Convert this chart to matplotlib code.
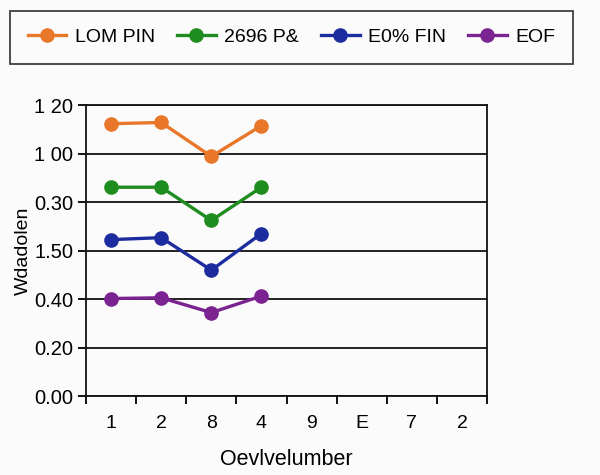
import matplotlib.pyplot as plt
import numpy as np

# =====================
# Дані
# =====================
x_labels = ["1", "2", "8", "4", "9", "E", "7", "2"]
y_tick_values = [0.0, 0.2, 0.4, 0.6, 0.8, 1.0, 1.2]
y_tick_labels = ["0.00", "0.20", "0.40", "1.50", "0.30", "1 00", "1 20"]

series_names = ["LOM PIN", "2696 P&", "E0% FIN", "EOF"]
orange_vals = [1.123, 1.128, 0.988, 1.115]
green_vals = [0.861, 0.861, 0.724, 0.861]
blue_vals = [0.645, 0.653, 0.519, 0.670]
purple_vals = [0.402, 0.405, 0.344, 0.412]

colors = ["#E8772A", "#1E8C1E", "#1C2C9E", "#7B2390"]

plt.rcParams["font.family"] = ["Liberation Sans", "DejaVu Sans"]

fig = plt.figure(figsize=(6, 4.75), dpi=100, facecolor="#fbfbfb")
ax = fig.add_axes([0.1433, 0.1663, 0.6684, 0.6126])
ax.set_facecolor("#fbfbfb")

x_pos = np.arange(len(orange_vals)) + 0.5
for vals, name, c in zip([orange_vals, green_vals, blue_vals, purple_vals],
                         series_names, colors):
    ax.plot(x_pos, vals, color=c, lw=2.4, marker="o", markersize=9.5,
            label=name, zorder=3)

# Осі
ax.set_xlim(0, len(x_labels))
ax.set_ylim(0, 1.2)
ax.set_xticks(np.arange(len(x_labels) + 1))
ax.set_xticklabels([])
ax.set_xticks(np.arange(len(x_labels)) + 0.5, minor=True)
ax.set_xticklabels(x_labels, minor=True)
ax.tick_params(axis="x", which="minor", length=0, pad=14, labelsize=14)
ax.tick_params(axis="x", which="major", length=6, width=1.3)
ax.set_yticks(y_tick_values)
ax.set_yticklabels(y_tick_labels)
ax.tick_params(axis="y", length=6, width=1.3, labelsize=14.5, pad=3)

ax.yaxis.grid(True, color="#111111", lw=1.3)
ax.set_axisbelow(True)
for s in ax.spines.values():
    s.set_color("#111111")
    s.set_linewidth(1.3)

ax.set_xlabel("Oevlvelumber", fontsize=15.5, labelpad=12)
ax.set_ylabel("Wdadolen", fontsize=14, labelpad=2)

# Легенда
leg = fig.legend(loc="center", bbox_to_anchor=(10 / 600, 1 - 67 / 475, 563 / 600, 59 / 475),
                 ncol=4, mode="expand", frameon=True, fancybox=False,
                 fontsize=14, handlelength=2.0, handletextpad=0.45,
                 borderpad=0.9, borderaxespad=0)
leg.get_frame().set_edgecolor("#111111")
leg.get_frame().set_linewidth(1.3)
leg.get_frame().set_facecolor("#fbfbfb")

fig.savefig("out.png", dpi=100, facecolor=fig.get_facecolor())
